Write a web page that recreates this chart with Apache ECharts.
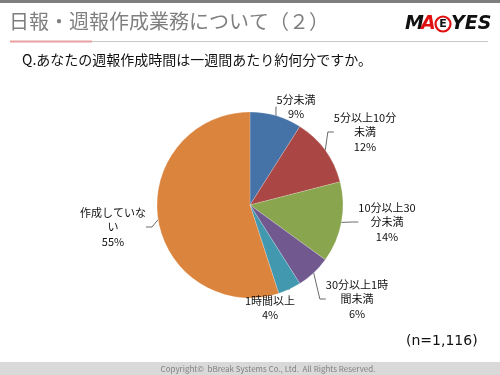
<!DOCTYPE html>
<html><head><meta charset="utf-8">
<script src="https://cdn.jsdelivr.net/npm/echarts@6/dist/echarts.min.js"></script>
<style>html,body{margin:0;padding:0;background:#fff}#c{width:500px;height:375px}</style>
</head><body><div id="c"></div>
<script>
const categories = ['5分未満','5分以上10分未満','10分以上30分未満','30分以上1時間未満','1時間以上','作成していない'];
const labelTexts = ['5分未満','5分以上10分\n未満','10分以上30\n分未満','30分以上1時\n間未満','1時間以上','作成していな\nい'];
const values = [9, 12, 14, 6, 4, 55];
const colors = ['#4572A7','#AA4643','#89A54E','#71588F','#4198AF','#DB843D'];
const titleText = '日報・週報作成業務について（２）';
const questionText = 'Q.あなたの週報作成時間は一週間あたり約何分ですか。';
const nText = '(n=1,116)';
const copyrightText = 'Copyright©  bBreak Systems Co., Ltd.  All Rights Reserved.';

// label placement (layout only)
const labelPos = [[296,107],[365,132],[387,222],[357,299],[270,308],[113,227]];

const font = '"Noto Sans CJK JP", "Noto Sans", sans-serif';
const logoFont = 'italic bold 19px "DejaVu Sans", sans-serif';
const chart = echarts.init(document.getElementById('c'), null, {renderer:'canvas'});
chart.setOption({
  animation:false,
  textStyle:{fontFamily:font},
  graphic:[
    {type:'rect', shape:{x:0,y:0,width:500,height:3}, style:{fill:'#7f7f7f'}},
    {type:'text', left:9, top:11, style:{text:titleText, font:'20px '+font, fill:'#7f7f7f'}},
    {type:'rect', shape:{x:90,y:41,width:398,height:1}, style:{fill:'#c8c8c8'}},
    {type:'rect', shape:{x:10,y:40.5,width:82,height:2}, style:{fill:'#e8a0a0'}},
    {type:'text', x:405, y:24, style:{text:'M', font:logoFont, fill:'#111', verticalAlign:'middle'}},
    {type:'text', x:421, y:24, style:{text:'A', font:logoFont, fill:'#e01010', verticalAlign:'middle'}},
    {type:'circle', shape:{cx:443,cy:24,r:7.5}, style:{fill:'none', stroke:'#e01010', lineWidth:2.2}},
    {type:'text', x:443, y:24.5, style:{text:'E', font:'bold 11px "DejaVu Sans", sans-serif', fill:'#111', align:'center', verticalAlign:'middle'}},
    {type:'text', x:451, y:24, style:{text:'YES', font:logoFont, fill:'#111', verticalAlign:'middle'}},
    {type:'text', left:22, top:53, style:{text:questionText, font:'14px '+font, fill:'#111'}},
    {type:'text', x:406, y:341, style:{text:nText, font:'14px "DejaVu Sans", sans-serif', fill:'#111', verticalAlign:'middle'}},
    {type:'rect', shape:{x:0,y:362,width:500,height:13}, style:{fill:'#d9d9d9'}},
    {type:'text', x:268, y:369, style:{text:copyrightText, font:'8px '+font, fill:'#7f7f7f', align:'center', verticalAlign:'middle'}}
  ],
  series:[{
    type:'pie',
    center:[250,205],
    radius:[0,93],
    startAngle:90,
    clockwise:true,
    data: categories.map((c,i)=>({name:c, value:values[i], itemStyle:{color:colors[i]}})),
    itemStyle:{borderColor:'rgba(255,255,255,0.4)', borderWidth:0.5},
    label:{
      show:true, position:'outside', color:'#111', fontSize:11, lineHeight:14.5, align:'center',
      formatter: p => labelTexts[p.dataIndex] + '\n' + p.value + '%'
    },
    labelLine:{show:true, length:8, length2:6, lineStyle:{color:'#444', width:0.8}},
    labelLayout: p => ({x:labelPos[p.dataIndex][0], y:labelPos[p.dataIndex][1], align:'center', verticalAlign:'middle'})
  }]
});
</script></body></html>
